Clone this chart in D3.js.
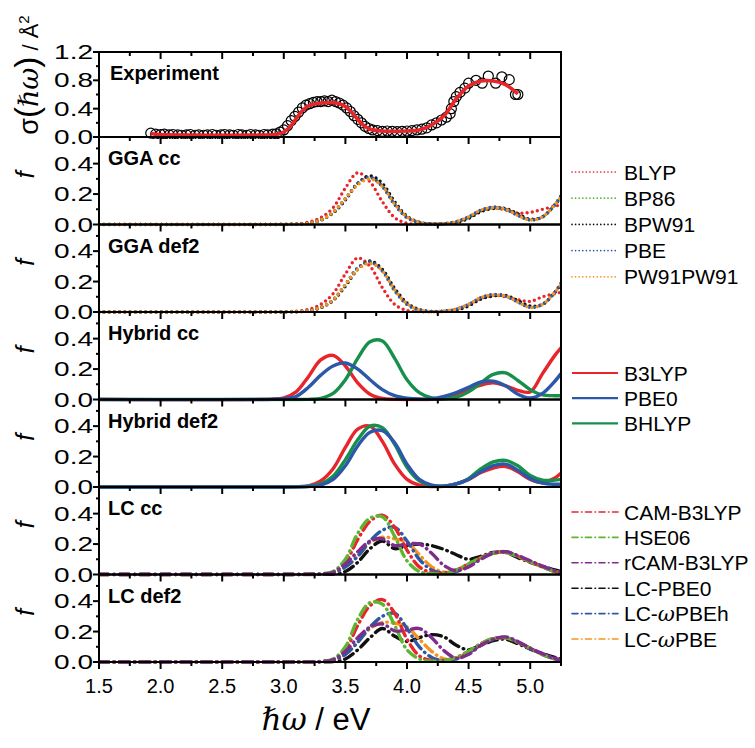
<!DOCTYPE html>
<html lang="en">
<head>
<meta charset="UTF-8">
<title>Optical spectra</title>
<script src="https://d3js.org/d3.v7.min.js"></script>
<style>
    body { margin: 0; background: #fff; }
    text { font-family: "Liberation Sans", Arial, sans-serif; fill: #000; }
    .tick-label { font-size: 20px; }
    .panel-label { font-size: 20px; font-weight: bold; }
    .legend-label { font-size: 21px; }
</style>
</head>
<body>
<script>
    // shared energy grid (eV) for the computed spectra
    const gridX = [1.5, 2.9, 3.0, 3.1, 3.2, 3.3, 3.4, 3.5, 3.6, 3.7, 3.8, 3.9, 4.0, 4.1, 4.2, 4.3, 4.4, 4.5, 4.6, 4.7, 4.8, 4.9, 5.0, 5.1, 5.2, 5.25];

    // experiment: measured points and fit
    const expX = [1.92, 1.96, 2.0, 2.03, 2.07, 2.1, 2.14, 2.17, 2.21, 2.24, 2.28, 2.31, 2.35, 2.38, 2.42, 2.45, 2.49, 2.52, 2.56, 2.59, 2.63, 2.66, 2.7, 2.73, 2.77, 2.8, 2.84, 2.87, 2.91, 2.94,
        2.97, 3.0, 3.03, 3.06, 3.09, 3.12, 3.15, 3.18, 3.21, 3.24, 3.27, 3.3, 3.33, 3.36, 3.39, 3.42, 3.45, 3.48, 3.51, 3.54, 3.57, 3.6, 3.63, 3.66, 3.69, 3.72, 3.76, 3.8, 3.84, 3.88, 3.92, 3.96,
        4.0, 4.04, 4.08, 4.12, 4.16, 4.2, 4.24, 4.28, 4.32, 4.35, 4.36, 4.38, 4.4, 4.43, 4.47, 4.5, 4.56, 4.61, 4.66, 4.72, 4.77, 4.83, 4.88, 4.9];
    const expY = [0.055, 0.04, 0.035, 0.04, 0.03, 0.035, 0.03, 0.025, 0.03, 0.035, 0.025, 0.03, 0.025, 0.03, 0.035, 0.025, 0.03, 0.035, 0.03, 0.025, 0.035, 0.03, 0.025, 0.035, 0.03, 0.025, 0.035, 0.03, 0.04, 0.045,
        0.07, 0.1, 0.16, 0.23, 0.29, 0.35, 0.41, 0.45, 0.47, 0.49, 0.5, 0.5, 0.51, 0.5, 0.52, 0.5, 0.48, 0.45, 0.41, 0.36, 0.3, 0.25, 0.2, 0.15, 0.12, 0.1, 0.09, 0.08, 0.085, 0.08, 0.075, 0.08,
        0.085, 0.09, 0.1, 0.11, 0.13, 0.17, 0.2, 0.24, 0.28, 0.33, 0.4, 0.5, 0.57, 0.63, 0.69, 0.76, 0.8, 0.76, 0.86, 0.76, 0.85, 0.81, 0.6, 0.6];
    const fitX = [1.92, 2.0, 2.2, 2.5, 2.8, 2.95, 3.0, 3.05, 3.1, 3.15, 3.2, 3.3, 3.4, 3.45, 3.5, 3.55, 3.6, 3.65, 3.7, 3.8, 3.9, 4.0, 4.1, 4.2, 4.3, 4.4, 4.5, 4.6, 4.7, 4.8, 4.9];
    const fitY = [0.05, 0.035, 0.028, 0.025, 0.027, 0.04, 0.07, 0.14, 0.26, 0.37, 0.44, 0.48, 0.485, 0.47, 0.43, 0.35, 0.25, 0.16, 0.11, 0.085, 0.08, 0.085, 0.1, 0.17, 0.3, 0.54, 0.72, 0.79, 0.79, 0.74, 0.61];

    // GGA functionals
    const ggaNames = ['BLYP', 'BP86', 'BPW91', 'PBE', 'PW91PW91'];
    const ggaCc = [
        [0, 0, 0.002, 0.004, 0.015, 0.045, 0.11, 0.24, 0.34, 0.28, 0.15, 0.045, 0.008, 0.003, 0.002, 0.005, 0.02, 0.05, 0.09, 0.11, 0.095, 0.075, 0.08, 0.1, 0.12, 0.13],
        [0, 0, 0.001, 0.002, 0.008, 0.03, 0.08, 0.17, 0.27, 0.31, 0.25, 0.13, 0.045, 0.012, 0.003, 0.005, 0.015, 0.045, 0.09, 0.11, 0.1, 0.06, 0.03, 0.05, 0.13, 0.18],
        [0, 0, 0.001, 0.002, 0.007, 0.028, 0.075, 0.16, 0.27, 0.32, 0.27, 0.15, 0.055, 0.015, 0.004, 0.004, 0.012, 0.04, 0.085, 0.105, 0.105, 0.07, 0.035, 0.05, 0.13, 0.18],
        [0, 0, 0.001, 0.002, 0.008, 0.03, 0.08, 0.17, 0.27, 0.31, 0.25, 0.13, 0.045, 0.012, 0.003, 0.006, 0.018, 0.05, 0.095, 0.115, 0.1, 0.06, 0.03, 0.05, 0.13, 0.19],
        [0, 0, 0.001, 0.002, 0.008, 0.03, 0.08, 0.17, 0.26, 0.3, 0.25, 0.135, 0.05, 0.013, 0.003, 0.006, 0.018, 0.05, 0.095, 0.11, 0.1, 0.06, 0.03, 0.05, 0.13, 0.18]
    ];
    const ggaDef2 = [
        [0, 0, 0.002, 0.005, 0.017, 0.05, 0.12, 0.25, 0.355, 0.3, 0.16, 0.05, 0.01, 0.003, 0.002, 0.005, 0.02, 0.05, 0.09, 0.11, 0.1, 0.08, 0.07, 0.1, 0.12, 0.13],
        [0, 0, 0.001, 0.002, 0.008, 0.03, 0.08, 0.18, 0.29, 0.33, 0.27, 0.14, 0.05, 0.013, 0.003, 0.005, 0.015, 0.045, 0.09, 0.11, 0.105, 0.07, 0.035, 0.05, 0.13, 0.18],
        [0, 0, 0.001, 0.002, 0.007, 0.028, 0.075, 0.17, 0.28, 0.335, 0.28, 0.155, 0.06, 0.016, 0.004, 0.004, 0.012, 0.04, 0.085, 0.105, 0.11, 0.075, 0.04, 0.05, 0.13, 0.18],
        [0, 0, 0.001, 0.002, 0.008, 0.03, 0.08, 0.18, 0.29, 0.33, 0.27, 0.14, 0.05, 0.013, 0.003, 0.006, 0.018, 0.05, 0.095, 0.115, 0.105, 0.065, 0.03, 0.05, 0.13, 0.19],
        [0, 0, 0.001, 0.002, 0.008, 0.03, 0.08, 0.18, 0.28, 0.32, 0.27, 0.145, 0.055, 0.014, 0.003, 0.006, 0.018, 0.05, 0.095, 0.11, 0.105, 0.065, 0.03, 0.05, 0.13, 0.18]
    ];

    // hybrid functionals
    const hybNames = ['B3LYP', 'PBE0', 'BHLYP'];
    const hybCc = [
        [0, 0.002, 0.01, 0.05, 0.15, 0.26, 0.29, 0.22, 0.11, 0.035, 0.007, 0.001, 0, 0, 0.002, 0.01, 0.035, 0.065, 0.095, 0.11, 0.09, 0.06, 0.05, 0.17, 0.29, 0.34],
        [0, 0.001, 0.005, 0.02, 0.08, 0.16, 0.22, 0.24, 0.2, 0.13, 0.065, 0.025, 0.008, 0.003, 0.005, 0.02, 0.045, 0.08, 0.115, 0.12, 0.09, 0.035, 0.01, 0.04, 0.12, 0.17],
        [0, 0, 0, 0, 0.001, 0.008, 0.04, 0.13, 0.27, 0.38, 0.385, 0.27, 0.13, 0.045, 0.01, 0.004, 0.015, 0.05, 0.11, 0.165, 0.175, 0.125, 0.065, 0.03, 0.025, 0.025]
    ];
    const hybDef2 = [
        [0, 0, 0, 0.002, 0.008, 0.04, 0.12, 0.26, 0.38, 0.4, 0.3, 0.15, 0.05, 0.012, 0.003, 0.005, 0.02, 0.05, 0.095, 0.125, 0.135, 0.1, 0.05, 0.03, 0.06, 0.09],
        [0, 0, 0, 0.001, 0.003, 0.012, 0.05, 0.14, 0.27, 0.36, 0.37, 0.29, 0.15, 0.05, 0.012, 0.005, 0.02, 0.05, 0.1, 0.14, 0.15, 0.11, 0.055, 0.025, 0.018, 0.018],
        [0, 0, 0, 0.001, 0.005, 0.02, 0.07, 0.18, 0.31, 0.4, 0.39, 0.28, 0.13, 0.04, 0.01, 0.005, 0.02, 0.055, 0.12, 0.165, 0.175, 0.14, 0.075, 0.045, 0.045, 0.05]
    ];

    // long-range corrected functionals
    const lcNames = ['CAM-B3LYP', 'HSE06', 'rCAM-B3LYP', 'LC-PBE0', 'LC-\u03c9PBEh', 'LC-\u03c9PBE'];
    const lcCc = [
        [0, 0, 0, 0, 0.001, 0.003, 0.015, 0.08, 0.23, 0.35, 0.39, 0.31, 0.16, 0.05, 0.012, 0.01, 0.03, 0.07, 0.11, 0.14, 0.145, 0.12, 0.085, 0.05, 0.02, 0.01],
        [0, 0, 0, 0, 0.001, 0.004, 0.02, 0.1, 0.27, 0.37, 0.38, 0.25, 0.09, 0.02, 0.005, 0.008, 0.03, 0.07, 0.11, 0.14, 0.145, 0.12, 0.085, 0.05, 0.02, 0.012],
        [0, 0, 0, 0, 0.001, 0.003, 0.015, 0.07, 0.15, 0.22, 0.235, 0.19, 0.2, 0.2, 0.14, 0.06, 0.025, 0.05, 0.1, 0.14, 0.15, 0.125, 0.09, 0.055, 0.025, 0.012],
        [0, 0, 0, 0, 0, 0.001, 0.003, 0.02, 0.08, 0.17, 0.22, 0.17, 0.19, 0.2, 0.19, 0.165, 0.13, 0.1, 0.12, 0.145, 0.145, 0.11, 0.08, 0.055, 0.03, 0.02],
        [0, 0, 0, 0, 0.001, 0.002, 0.01, 0.05, 0.12, 0.22, 0.29, 0.31, 0.22, 0.1, 0.03, 0.01, 0.02, 0.06, 0.11, 0.14, 0.15, 0.12, 0.085, 0.05, 0.02, 0.01],
        [0, 0, 0, 0, 0.001, 0.002, 0.01, 0.05, 0.12, 0.21, 0.245, 0.235, 0.21, 0.13, 0.05, 0.015, 0.02, 0.06, 0.11, 0.14, 0.15, 0.12, 0.08, 0.05, 0.02, 0.01]
    ];
    const lcDef2 = [
        [0, 0, 0, 0, 0.001, 0.003, 0.015, 0.08, 0.24, 0.37, 0.41, 0.32, 0.15, 0.04, 0.01, 0.01, 0.03, 0.07, 0.12, 0.155, 0.16, 0.13, 0.09, 0.05, 0.02, 0.012],
        [0, 0, 0, 0, 0.001, 0.004, 0.02, 0.1, 0.28, 0.39, 0.38, 0.24, 0.08, 0.02, 0.005, 0.01, 0.03, 0.07, 0.12, 0.155, 0.16, 0.13, 0.09, 0.05, 0.02, 0.015],
        [0, 0, 0, 0, 0.001, 0.003, 0.015, 0.07, 0.16, 0.23, 0.25, 0.205, 0.21, 0.22, 0.16, 0.075, 0.025, 0.05, 0.11, 0.15, 0.165, 0.135, 0.09, 0.055, 0.025, 0.012],
        [0, 0, 0, 0, 0, 0.001, 0.003, 0.02, 0.08, 0.16, 0.22, 0.17, 0.135, 0.16, 0.18, 0.165, 0.11, 0.08, 0.11, 0.14, 0.15, 0.12, 0.085, 0.055, 0.03, 0.02],
        [0, 0, 0, 0, 0.001, 0.002, 0.01, 0.05, 0.13, 0.23, 0.3, 0.32, 0.22, 0.1, 0.03, 0.01, 0.02, 0.06, 0.11, 0.15, 0.16, 0.13, 0.09, 0.05, 0.02, 0.01],
        [0, 0, 0, 0, 0.001, 0.002, 0.01, 0.05, 0.13, 0.22, 0.26, 0.255, 0.23, 0.15, 0.07, 0.02, 0.02, 0.06, 0.11, 0.15, 0.16, 0.13, 0.09, 0.05, 0.02, 0.01]
    ];

    const expTicks = [0.0, 0.4, 0.8, 1.2];
    const fTicks = [0.0, 0.2, 0.4];
    const xTicks = [1.5, 2.0, 2.5, 3.0, 3.5, 4.0, 4.5, 5.0];

    // ---- styles ----
    const red = '#e8252b', gggreen = '#5db530', hgreen = '#16904a', blue = '#2c58a8',
          orange = '#f7921e', black = '#111', purple = '#7e2d8d';
    const ggaColors = [red, gggreen, black, blue, orange];
    const hybColors = [red, blue, hgreen];
    const lcColors = [red, gggreen, purple, black, blue, orange];
    const styles = {
        dot:     { width: 3.4, dash: '0 5.2', cap: 'round', lw: 1.7, ldash: '0 3.6' },
        solid:   { width: 3.4, dash: null, cap: 'butt', lw: 2.2, ldash: null },
        dashdot: { width: 3.4, dash: '10 5 0.5 5', cap: 'round', lw: 1.6, ldash: '6 3.5 0.5 3.5' }
    };

    const W = 755, H = 748;
    const svg = d3.select('body').append('svg').attr('width', W).attr('height', H);
    const x = d3.scaleLinear().domain([1.5, 5.25]).range([99, 561]);
    const edges = [52, 137, 224.5, 312, 399.5, 487, 574.5, 662];

    const panels = [
        { label: 'Experiment', kind: 'exp' },
        { label: 'GGA cc', series: ggaCc, colors: ggaColors, style: 'dot', draw: [0, 1, 2, 3, 4] },
        { label: 'GGA def2', series: ggaDef2, colors: ggaColors, style: 'dot', draw: [0, 1, 2, 3, 4] },
        { label: 'Hybrid cc', series: hybCc, colors: hybColors, style: 'solid', draw: [0, 2, 1] },
        { label: 'Hybrid def2', series: hybDef2, colors: hybColors, style: 'solid', draw: [0, 2, 1] },
        { label: 'LC cc', series: lcCc, colors: lcColors, style: 'dashdot', draw: [3, 5, 4, 0, 1, 2] },
        { label: 'LC def2', series: lcDef2, colors: lcColors, style: 'dashdot', draw: [3, 5, 4, 0, 1, 2] }
    ];

    const line = (y) => d3.line().x(d => x(d[0])).y(d => y(Math.max(0, d[1])))
        .curve(d3.curveCatmullRom.alpha(0.5));

    panels.forEach((p, i) => {
        const top = edges[i], bottom = edges[i + 1];
        const y = d3.scaleLinear()
            .domain(p.kind === 'exp' ? [0, 1.2] : [0, 0.575])
            .range([bottom, top]);

        const clipId = 'clip' + i;
        svg.append('clipPath').attr('id', clipId)
            .append('rect').attr('x', x.range()[0]).attr('y', top - 3)
            .attr('width', x.range()[1] - x.range()[0]).attr('height', bottom - top + 5);
        const g = svg.append('g').attr('clip-path', `url(#${clipId})`);

        if (p.kind === 'exp') {
            g.selectAll('circle').data(expX.map((v, k) => [v, expY[k]]))
                .enter().append('circle')
                .attr('cx', d => x(d[0])).attr('cy', d => y(d[1])).attr('r', 5)
                .attr('fill', 'none').attr('stroke', '#000').attr('stroke-width', 1.2);
            g.append('path').datum(fitX.map((v, k) => [v, fitY[k]]))
                .attr('d', line(y)).attr('fill', 'none')
                .attr('stroke', red).attr('stroke-width', 3.6);
        } else {
            const st = styles[p.style];
            p.draw.forEach(k => {
                g.append('path').datum(gridX.map((v, j) => [v, p.series[k][j]]))
                    .attr('d', line(y)).attr('fill', 'none')
                    .attr('stroke', p.colors[k]).attr('stroke-width', st.width)
                    .attr('stroke-linecap', st.cap)
                    .attr('stroke-dasharray', st.dash);
            });
        }

        // frame
        svg.append('rect').attr('x', 99).attr('y', top).attr('width', 462).attr('height', bottom - top)
            .attr('fill', 'none').attr('stroke', '#000').attr('stroke-width', 2);

        // x ticks (downward from the top edge of every panel)
        const xt = d3.range(1.5, 5.26, 0.25);
        svg.append('g').selectAll('line').data(xt).enter().append('line')
            .attr('x1', d => x(d)).attr('x2', d => x(d))
            .attr('y1', top).attr('y2', (d, k) => top + (k % 2 === 0 ? 7 : 4))
            .attr('stroke', '#000').attr('stroke-width', 2);

        // y ticks + labels
        const ticks = p.kind === 'exp' ? expTicks : fTicks;
        const minor = p.kind === 'exp' ? [0.2, 0.6, 1.0] : [0.1, 0.3, 0.5];
        const yg = svg.append('g');
        yg.selectAll('.maj').data(ticks).enter().append('line')
            .attr('x1', 93).attr('x2', 99).attr('y1', d => y(d)).attr('y2', d => y(d))
            .attr('stroke', '#000').attr('stroke-width', 2);
        yg.selectAll('.min').data(minor).enter().append('line')
            .attr('x1', 96).attr('x2', 99).attr('y1', d => y(d)).attr('y2', d => y(d))
            .attr('stroke', '#000').attr('stroke-width', 2);
        yg.selectAll('text').data(ticks).enter().append('text')
            .attr('class', 'tick-label')
            .attr('transform', d => `translate(93,${y(d) + 7}) scale(1.4,1)`)
            .attr('text-anchor', 'end')
            .text(d => d.toFixed(1));

        // panel label
        svg.append('text').attr('class', 'panel-label')
            .attr('x', p.kind === 'exp' ? 110 : 108).attr('y', top + 28).text(p.label);

        // y axis title for f panels
        if (p.kind !== 'exp') {
            svg.append('text')
                .attr('transform', `translate(34,${(top + bottom) / 2 - 6}) rotate(-90)`)
                .attr('text-anchor', 'middle')
                .style('font-size', '25px').style('font-style', 'italic')
                .text('f');
        }
    });

    // bottom axis ticks (outward) and labels
    const bottomY = edges[edges.length - 1];
    svg.append('g').selectAll('line').data(d3.range(1.5, 5.26, 0.25)).enter().append('line')
        .attr('x1', d => x(d)).attr('x2', d => x(d))
        .attr('y1', bottomY).attr('y2', (d, k) => bottomY + (k % 2 === 0 ? 7 : 4))
        .attr('stroke', '#000').attr('stroke-width', 2);
    svg.append('g').selectAll('text').data(xTicks).enter().append('text')
        .attr('class', 'tick-label')
        .attr('x', d => x(d)).attr('y', bottomY + 31)
        .attr('text-anchor', 'middle')
        .text(d => d.toFixed(1));

    // axis titles
    const xt = svg.append('text').attr('x', 316).attr('y', 730)
        .attr('text-anchor', 'middle').style('font-size', '31px');
    xt.append('tspan').style('font-family', '"DejaVu Serif", serif').style('font-style', 'italic').text('\u210f\u03c9');
    xt.append('tspan').text(' / eV');

    const yt = svg.append('text').attr('transform', 'translate(38,75) rotate(-90)')
        .attr('text-anchor', 'middle').style('font-size', '27px');
    yt.append('tspan').text('\u03c3');
    yt.append('tspan').style('font-size', '33px').text('(');
    yt.append('tspan').style('font-family', '"DejaVu Serif", serif').style('font-style', 'italic').text('\u210f\u03c9');
    yt.append('tspan').style('font-size', '33px').text(')');
    yt.append('tspan').style('font-size', '22px').text(' / \u00c5');
    yt.append('tspan').style('font-size', '15px').attr('dy', -9).text('2');

    // legends
    const legends = [
        { names: ggaNames, colors: ggaColors, style: 'dot', y0: 172, dy: 26.2 },
        { names: hybNames, colors: hybColors, style: 'solid', y0: 373, dy: 25.2 },
        { names: lcNames, colors: lcColors, style: 'dashdot', y0: 512, dy: 25.4 }
    ];
    legends.forEach(L => {
        const st = styles[L.style];
        L.names.forEach((n, k) => {
            const yy = L.y0 + k * L.dy;
            svg.append('line').attr('x1', 572).attr('x2', 618).attr('y1', yy).attr('y2', yy)
                .attr('stroke', L.colors[k]).attr('stroke-width', st.lw)
                .attr('stroke-linecap', st.cap).attr('stroke-dasharray', st.ldash);
            const t = svg.append('text').attr('class', 'legend-label')
                .attr('x', 624).attr('y', yy + 7.5);
            if (n.includes('\u03c9')) {
                const parts = n.split('\u03c9');
                t.append('tspan').text(parts[0]);
                t.append('tspan').style('font-family', '"DejaVu Serif", serif').style('font-style', 'italic').text('\u03c9');
                t.append('tspan').text(parts[1]);
            } else {
                t.text(n);
            }
        });
    });
</script>
</body>
</html>
